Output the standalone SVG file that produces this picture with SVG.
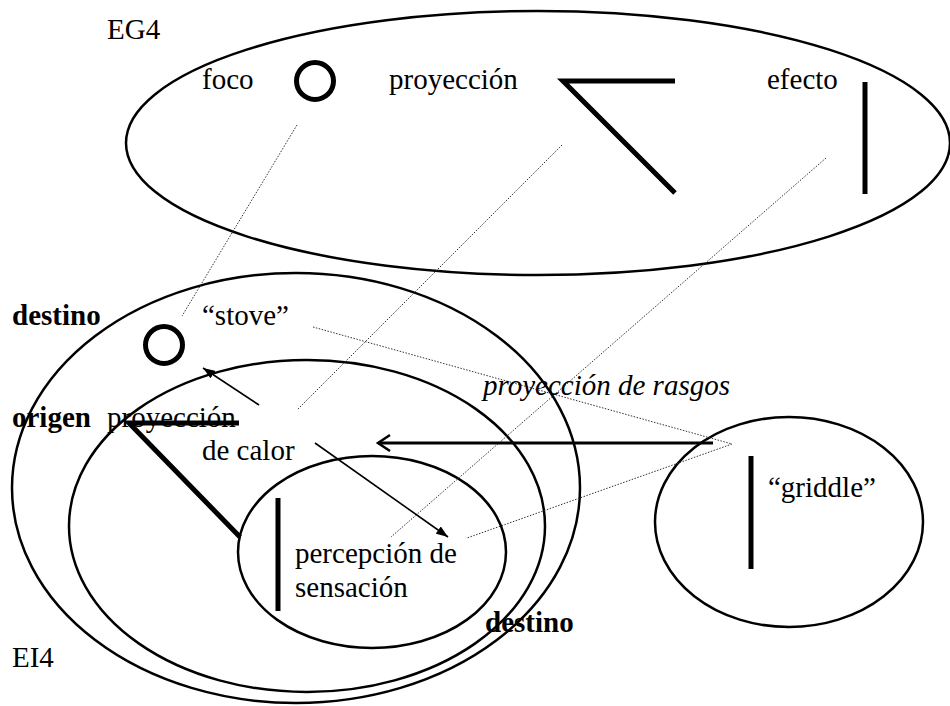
<svg xmlns="http://www.w3.org/2000/svg" width="950" height="706" viewBox="0 0 950 706">
<defs>
<style>
.t{font-family:"Liberation Serif","Times New Roman",serif;font-size:29px;fill:#000}
.b{font-weight:bold}
.i{font-style:italic}
.e{fill:none;stroke:#000;stroke-width:2.5}
.k{fill:none;stroke:#000;stroke-width:5}
.d{fill:none;stroke:#333;stroke-width:1;stroke-dasharray:1.5 1.5}
.a{fill:none;stroke:#000;stroke-width:1.6}
</style>
<marker id="fa" markerUnits="userSpaceOnUse" markerWidth="13" markerHeight="9" refX="12" refY="4.5" orient="auto" viewBox="0 0 13 9">
<path d="M0,0 L12,4.5 L0,9 z" fill="#000"/>
</marker>
<marker id="oa" markerUnits="userSpaceOnUse" markerWidth="16" markerHeight="20" refX="13" refY="9" orient="auto" viewBox="0 0 16 20">
<path d="M1,1 L13,9 L1,17" fill="none" stroke="#000" stroke-width="2.5"/>
</marker>
</defs>
<rect width="950" height="706" fill="#fff"/>

<g id="EG4">
<ellipse class="e" cx="538" cy="143" rx="412" ry="132"/>
<text class="t" x="107" y="39">EG4</text>
<text class="t" x="202" y="89">foco</text>
<circle class="k" cx="315" cy="81" r="18.5"/>
<text class="t" x="389" y="89">proyección</text>
<polyline class="k" points="675,81 563,81 675,193"/>
<text class="t" x="767" y="89">efecto</text>
<line class="k" x1="865" y1="82" x2="865" y2="194"/>
</g>

<g id="EI4">
<ellipse class="e" cx="296" cy="488" rx="284" ry="215"/>
<text class="t" x="12" y="667">EI4</text>
<text class="t b" x="12" y="325">destino</text>
<circle class="k" cx="164" cy="345" r="18.5"/>
<text class="t" x="202" y="325">“stove”</text>
</g>

<g id="origen">
<ellipse class="e" cx="307" cy="526" rx="238" ry="166"/>
<text class="t b" x="12" y="427">origen</text>
<text class="t" x="107" y="427">proyección</text>
<polyline class="k" points="239,423 129,423 240,537"/>
<text class="t" x="202" y="460">de calor</text>
</g>

<g id="destino-inner">
<ellipse class="e" cx="372" cy="552" rx="134" ry="96"/>
<line class="k" x1="278" y1="498" x2="278" y2="611"/>
<text class="t" x="295" y="563">percepción de</text>
<text class="t" x="295" y="597">sensación</text>
<text class="t b" x="485" y="632">destino</text>
</g>

<g id="griddle">
<ellipse class="e" cx="789" cy="522" rx="134" ry="105"/>
<line class="k" x1="751" y1="456" x2="751" y2="569"/>
<text class="t" x="768" y="497">“griddle”</text>
</g>

<g id="connectors">
<line class="d" x1="297" y1="125" x2="182" y2="316"/>
<line class="d" x1="562" y1="145" x2="297" y2="410"/>
<line class="d" x1="826" y1="158" x2="391" y2="537"/>
<polyline class="d" points="313,327 732,444 467,538"/>
<text class="t i" x="483" y="395">proyección de rasgos</text>
<line class="a" x1="259" y1="405" x2="203" y2="368" marker-end="url(#fa)"/>
<line class="a" x1="315" y1="443" x2="448" y2="537" marker-end="url(#fa)"/>
<line x1="713" y1="443" x2="378" y2="443" stroke="#000" stroke-width="3" marker-end="url(#oa)"/>
</g>
</svg>
